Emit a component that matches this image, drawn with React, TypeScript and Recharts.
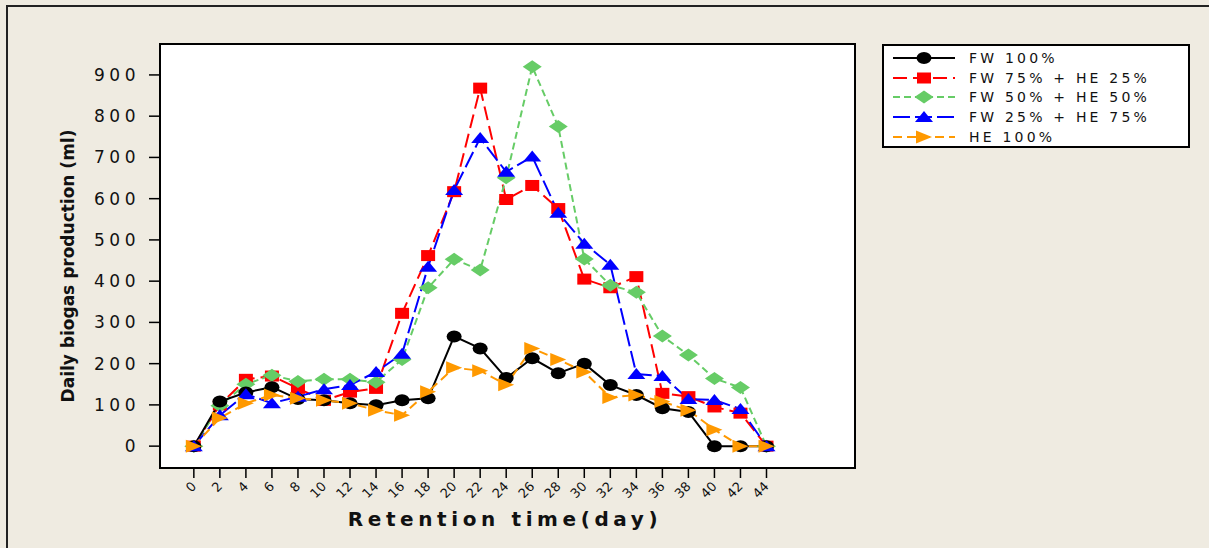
import React from 'react';
import { LineChart, Line, XAxis, YAxis, Legend, ReferenceArea } from 'recharts';

const days = [0, 2, 4, 6, 8, 10, 12, 14, 16, 18, 20, 22, 24, 26, 28, 30, 32, 34, 36, 38, 40, 42, 44];
const yTicks = [0, 100, 200, 300, 400, 500, 600, 700, 800, 900];

const fw100 = [0, 108, 130, 143, 114, 111, 104, 99, 111, 116, 266, 237, 165, 213, 177, 200, 148, 124, 92, 83, 0, 0, 0];
const fw75he25 = [0, 100, 162, 170, 140, 111, 131, 140, 322, 462, 617, 868, 598, 632, 576, 405, 384, 411, 128, 120, 95, 80, 0];
const fw50he50 = [0, 98, 150, 172, 157, 162, 162, 155, 210, 384, 453, 427, 651, 920, 775, 454, 390, 373, 267, 221, 164, 142, 0];
const fw25he75 = [0, 75, 126, 104, 120, 138, 148, 180, 224, 435, 621, 747, 665, 702, 566, 491, 440, 175, 170, 114, 112, 90, 0];
const he100 = [0, 68, 104, 124, 116, 111, 104, 87, 75, 132, 190, 183, 149, 237, 210, 180, 118, 124, 108, 87, 40, 0, 0];

const data = days.map((d, i) => ({
  day: d,
  fw100: fw100[i],
  fw75: fw75he25[i],
  fw50: fw50he50[i],
  fw25: fw25he75[i],
  he100: he100[i],
}));

const FONT = '"DejaVu Sans", Verdana, sans-serif';

type Shape = 'circle' | 'square' | 'diamond' | 'up' | 'right';

function Marker({ cx, cy, shape, color }: { cx: number; cy: number; shape: Shape; color: string }) {
  if (cx == null || cy == null) return null;
  switch (shape) {
    case 'circle':
      return <ellipse cx={cx} cy={cy} rx={7.5} ry={6} fill={color} />;
    case 'square':
      return <rect x={cx - 7} y={cy - 5.5} width={14} height={11} fill={color} />;
    case 'diamond':
      return <polygon points={`${cx - 9.5},${cy} ${cx},${cy - 6.5} ${cx + 9.5},${cy} ${cx},${cy + 6.5}`} fill={color} />;
    case 'up':
      return <polygon points={`${cx - 9},${cy + 5} ${cx},${cy - 6} ${cx + 9},${cy + 5}`} fill={color} />;
    default:
      return <polygon points={`${cx - 8},${cy - 6.5} ${cx + 8},${cy} ${cx - 8},${cy + 6.5}`} fill={color} />;
  }
}

const series = [
  { key: 'fw100', name: 'FW 100%', color: '#000000', dash: undefined, shape: 'circle' as Shape },
  { key: 'fw75', name: 'FW 75% + HE 25%', color: '#ff0000', dash: '14 6', shape: 'square' as Shape },
  { key: 'fw50', name: 'FW 50% + HE 50%', color: '#66cc66', dash: '7 4', shape: 'diamond' as Shape },
  { key: 'fw25', name: 'FW 25% + HE 75%', color: '#0000ff', dash: '17 5', shape: 'up' as Shape },
  { key: 'he100', name: 'HE 100%', color: '#ff9900', dash: '9 5', shape: 'right' as Shape },
];

// drawing order (last on top)
const drawOrder = ['fw75', 'fw50', 'fw100', 'fw25', 'he100'];

function LegendBox() {
  return (
    <div
      style={{
        width: 308,
        height: 104,
        boxSizing: 'border-box',
        background: '#fff',
        border: '2px solid #000',
        padding: '2.5px 0 0 9px',
        fontFamily: FONT,
      }}
    >
      {series.map((s) => (
        <div key={s.key} style={{ display: 'flex', alignItems: 'center', height: 19.6 }}>
          <svg width={62} height={16} style={{ display: 'block' }}>
            <line x1={0} x2={62} y1={8} y2={8} stroke={s.color} strokeWidth={2} strokeDasharray={s.dash} />
            <Marker cx={31} cy={8} shape={s.shape} color={s.color} />
          </svg>
          <span style={{ marginLeft: 14, fontSize: 14, letterSpacing: 3.2, whiteSpace: 'pre', color: '#111' }}>
            {s.name}
          </span>
        </div>
      ))}
    </div>
  );
}

function XTick({ x, y, payload }: any) {
  return (
    <g transform={`translate(${x},${y + 4})`}>
      <text textAnchor="end" transform="rotate(-45)" dy="0.35em" fontSize={13} fontFamily={FONT} fill="#111">
        {payload.value}
      </text>
    </g>
  );
}

function YTick({ x, y, payload }: any) {
  return (
    <text x={x} y={y} dy="0.35em" textAnchor="end" fontSize={17} letterSpacing={4.5} fontFamily={FONT} fill="#111">
      {payload.value}
    </text>
  );
}

export default function App() {
  return (
    <div style={{ position: 'absolute', left: 0, top: 0, width: 1209, height: 548, background: '#efebe1' }}>
      <div style={{ position: 'absolute', left: 6, top: 5, width: 1203, height: 2, background: '#222' }} />
      <div style={{ position: 'absolute', left: 6, top: 5, width: 1.5, height: 543, background: '#222' }} />
      <LineChart width={1209} height={548} data={data} margin={{ top: 44, right: 354, bottom: 20, left: 0 }}>
        <ReferenceArea
          x1={-2.6}
          x2={50.8}
          y1={-53}
          y2={975}
          fill="#ffffff"
          fillOpacity={1}
          stroke="#000"
          strokeWidth={2}
          ifOverflow="visible"
        />
        <XAxis
          dataKey="day"
          type="number"
          domain={[-2.6, 50.8]}
          ticks={days}
          interval={0}
          height={60}
          axisLine={false}
          tickSize={10}
          tickLine={{ stroke: '#000', strokeWidth: 1.5 }}
          tick={<XTick />}
        />
        <YAxis
          type="number"
          domain={[-53, 975]}
          ticks={yTicks}
          interval={0}
          width={160}
          axisLine={false}
          tickSize={11}
          tickMargin={9}
          tickLine={{ stroke: '#000', strokeWidth: 1.5 }}
          tick={<YTick />}
        />
        <Legend verticalAlign="middle" layout="horizontal" wrapperStyle={{ left: 882, top: 44, width: 308 }} content={() => <LegendBox />} />
        {drawOrder.map((k) => {
          const s = series.find((q) => q.key === k)!;
          return (
            <Line
              key={s.key}
              dataKey={s.key}
              name={s.name}
              type="linear"
              stroke={s.color}
              strokeWidth={2}
              strokeDasharray={s.dash}
              isAnimationActive={false}
              dot={(p: any) => <Marker key={`${s.key}-${p.index}`} cx={p.cx} cy={p.cy} shape={s.shape} color={s.color} />}
              activeDot={false}
            />
          );
        })}
        <text
          x={505}
          y={526}
          textAnchor="middle"
          fontSize={20}
          fontWeight="bold"
          letterSpacing={4.6}
          fontFamily={FONT}
          fill="#111"
        >
          Retention time(day)
        </text>
        <text
          transform="translate(74,266) rotate(-90)"
          textAnchor="middle"
          fontSize={17}
          fontWeight="bold"
          fontFamily={FONT}
          fill="#111"
        >
          Daily biogas production (ml)
        </text>
      </LineChart>
    </div>
  );
}
